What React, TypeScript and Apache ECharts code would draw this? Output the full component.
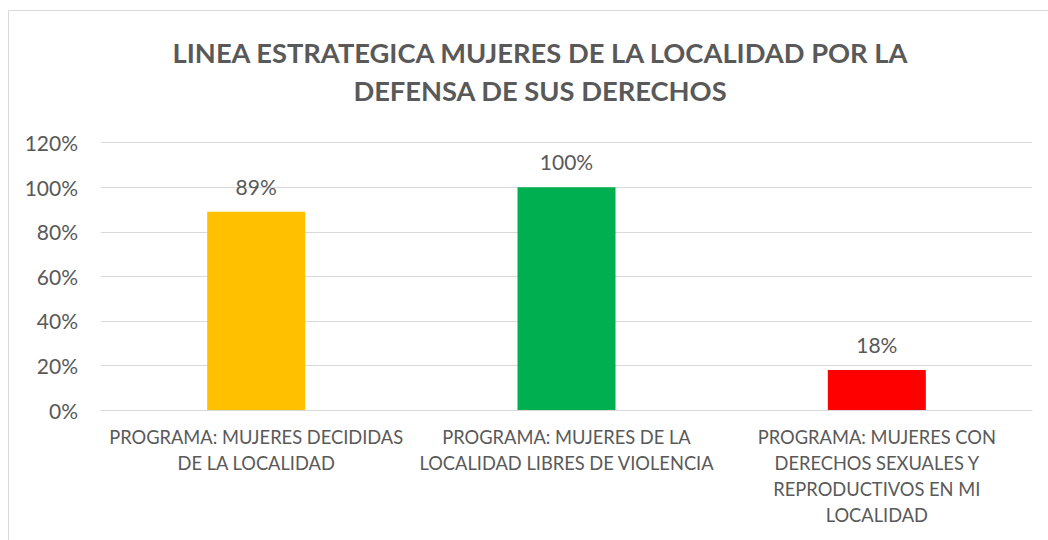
import React, { useEffect, useRef } from "react";
import * as echarts from "echarts";

const titleLines = ["LINEA ESTRATEGICA MUJERES DE LA LOCALIDAD POR LA", "DEFENSA DE SUS DERECHOS"];
const categories = [
  "PROGRAMA: MUJERES DECIDIDAS\nDE LA LOCALIDAD",
  "PROGRAMA: MUJERES DE LA\nLOCALIDAD LIBRES DE VIOLENCIA",
  "PROGRAMA: MUJERES CON\nDERECHOS SEXUALES Y\nREPRODUCTIVOS EN MI\nLOCALIDAD",
];
const values = [0.89, 1.0, 0.18];
const barColors = ["#FFC000", "#00B050", "#FF0000"];
const yMax = 1.2;
const yInterval = 0.2;

const FONT = "Lato, 'Noto Sans', sans-serif";
const TEXT = "#595959";

export default function App() {
  const ref = useRef<HTMLDivElement>(null);
  useEffect(() => {
    if (!ref.current) return;
    const chart = echarts.init(ref.current, undefined, { renderer: "svg" });
    chart.setOption({
      animation: false,
      backgroundColor: "#ffffff",
      textStyle: { fontFamily: FONT },
      graphic: [
        {
          type: "rect",
          shape: { x: 8.5, y: 10.5, width: 1100, height: 600 },
          style: { fill: "none", stroke: "#d9d9d9", lineWidth: 1 },
          silent: true,
        },
      ],
      title: {
        text: titleLines.join("\n"),
        left: 535,
        top: 28,
        padding: 5,
        textAlign: "center",
        textStyle: {
          fontFamily: FONT,
          fontSize: 27.3,
          fontWeight: "bold",
          color: TEXT,
          lineHeight: 38.5,
        },
      },
      grid: { left: 101, right: 16, top: 142.7, bottom: 130, containLabel: false },
      xAxis: {
        type: "category",
        data: categories,
        axisLine: { show: true, lineStyle: { color: "#d9d9d9", width: 1 } },
        axisTick: { show: false },
        axisLabel: {
          interval: 0,
          color: TEXT,
          fontFamily: FONT,
          fontSize: 18.3,
          lineHeight: 26,
          margin: 14,
          align: "center",
        },
      },
      yAxis: {
        type: "value",
        min: 0,
        max: yMax,
        interval: yInterval,
        axisLine: { show: false },
        axisTick: { show: false },
        splitLine: { lineStyle: { color: "#d9d9d9", width: 1 } },
        axisLabel: {
          color: TEXT,
          fontFamily: FONT,
          fontSize: 21,
          margin: 23,
          formatter: (v: number) => `${Math.round(v * 100)}%`,
        },
      },
      series: [
        {
          type: "bar",
          barWidth: 98,
          data: values.map((v, i) => ({ value: v, itemStyle: { color: barColors[i] } })),
          label: {
            show: true,
            position: "top",
            distance: 15,
            color: TEXT,
            fontFamily: FONT,
            fontSize: 21,
            formatter: (p: any) => `${Math.round(p.value * 100)}%`,
          },
        },
      ],
    });
    return () => chart.dispose();
  }, []);
  return (
    <div
      ref={ref}
      style={{ position: "fixed", left: 0, top: 0, width: 1048, height: 540 }}
    />
  );
}
